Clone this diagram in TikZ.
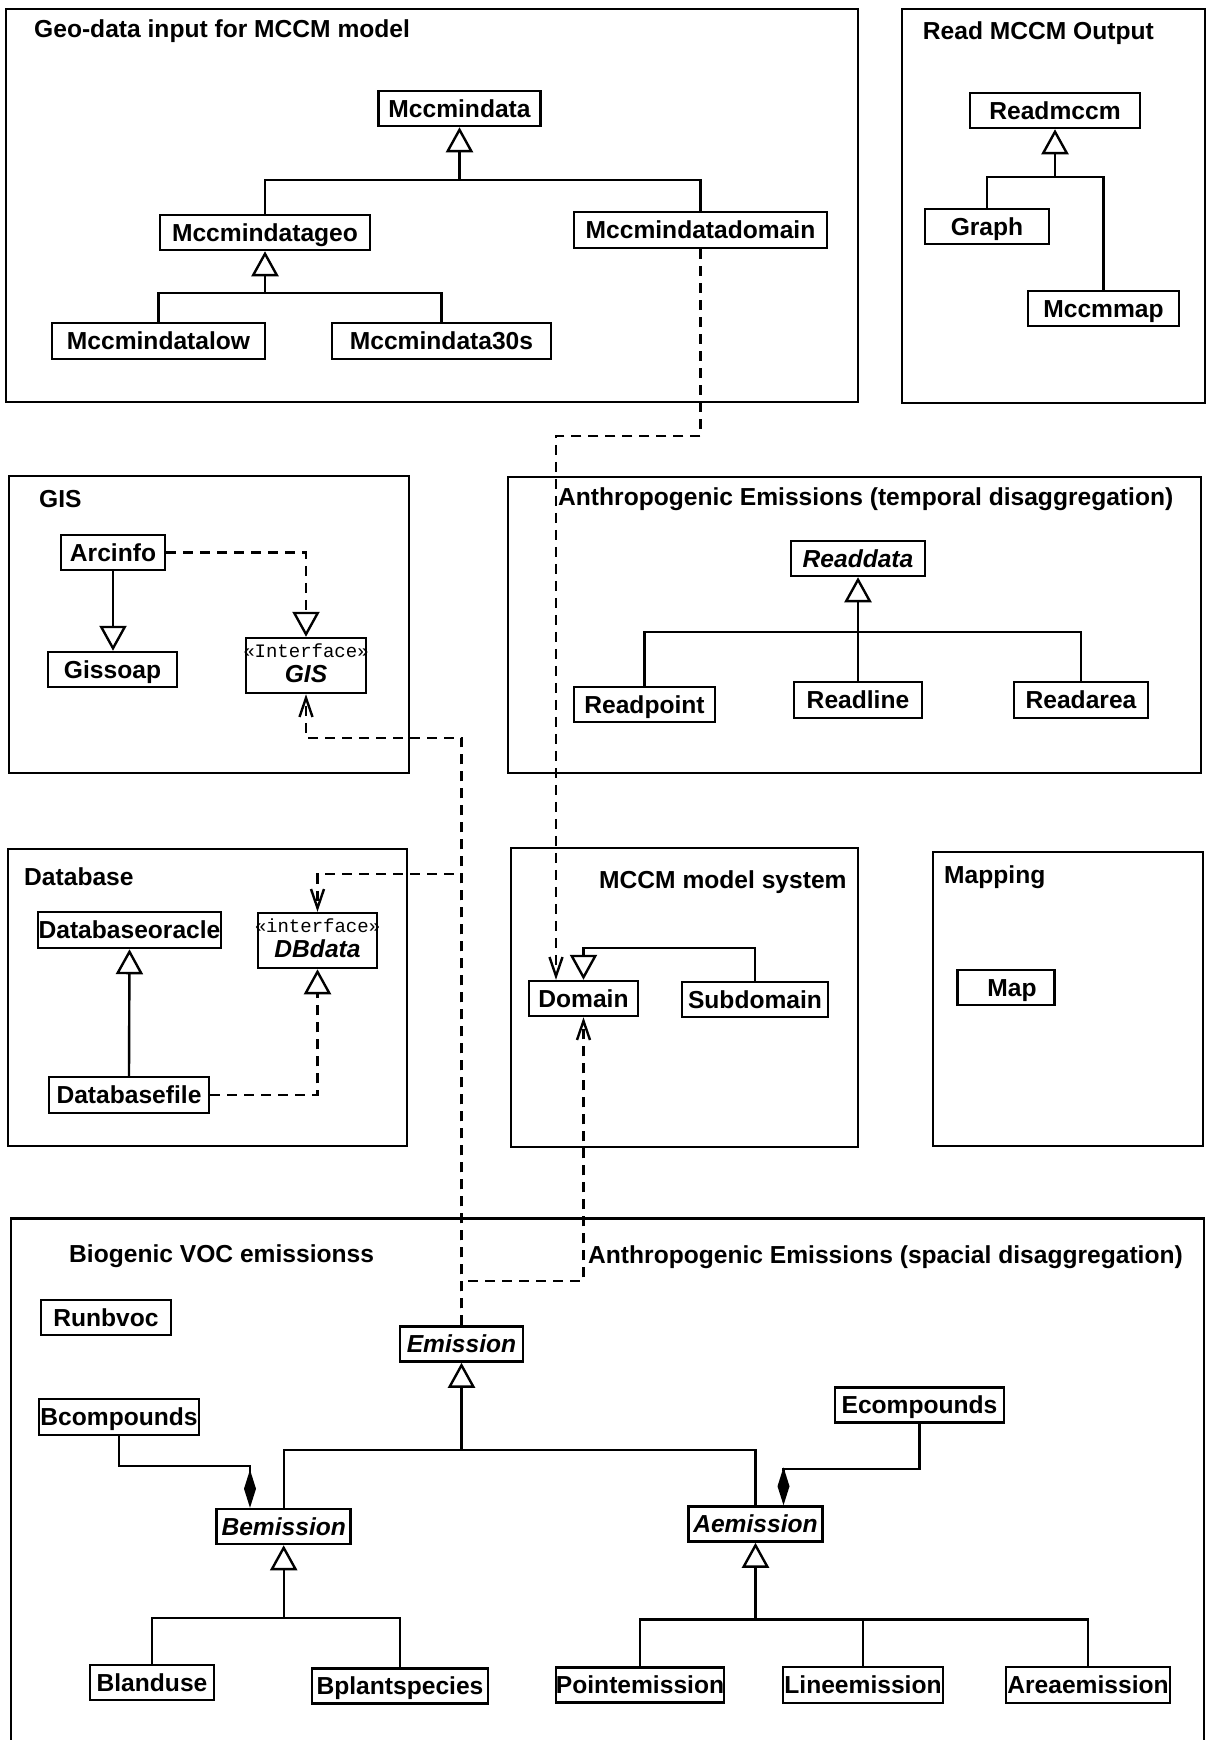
\documentclass[tikz,border=0pt]{standalone}
\usepackage{fontspec}
\setmainfont{Liberation Sans}
\newfontfamily\stereofam{Liberation Mono}
\usetikzlibrary{arrows.meta}
\newcommand\clsfont{\fontsize{24.6}{28}\selectfont\bfseries}
\newcommand\ifacetext[3]{\vbox{\baselineskip=24.5pt\lineskiplimit=-100pt\lineskip=0pt%
\hbox to #1pt{\hss{\stereofam\mdseries\fontsize{19}{19}\selectfont #2}\hss}%
\hbox to #1pt{\hss\textit{#3}\hss}}}
\tikzset{
 pkg/.style={draw, line width=2.5pt, inner sep=0pt},
 wh/.style 2 args={minimum width=#1pt, minimum height=#2pt},
 cls/.style={draw, line width=2.5pt, inner sep=0pt, font=\clsfont, text height=17.6pt, text depth=0pt},
 abscls/.style={cls, font=\clsfont\itshape},
 iface/.style={draw, line width=2.5pt, inner sep=0pt, font=\clsfont, text height=33pt, text depth=0pt, minimum height=55pt},
 title/.style={anchor=base west, inner sep=0pt, font=\clsfont},
 conn/.style={line width=2.4pt},
 gen/.style={conn, -{Triangle[open,length=25pt,width=27pt,fill=white]}},
 dep/.style={conn, dash pattern=on 10pt off 7pt, -{Straight Barb[length=19pt,width=13pt]}},
 real/.style={conn, dash pattern=on 10pt off 7pt, -{Triangle[open,length=25pt,width=27pt,fill=white]}},
 comp/.style={conn, -{Diamond[length=38pt,width=12pt]}},
}
\begin{document}
\begin{tikzpicture}[x=1pt,y=-1pt]
\useasboundingbox (0,0) rectangle (1207,1740);
\clip (0,0) rectangle (1207,1740);
\fill[white] (0,0) rectangle (1207,1740);

% ---------- packages ----------
\node[pkg, wh={852}{393}] (pGeo) at (432,205.5) {};
\node[pkg, wh={303}{394}] (pRead) at (1053.5,206) {};
\node[pkg, wh={400}{297}] (pGIS) at (209,624.5) {};
\node[pkg, wh={693}{296}] (pTemp) at (854.5,625) {};
\node[pkg, wh={399}{297}] (pDB) at (207.5,997.5) {};
\node[pkg, wh={347}{299}] (pMCCM) at (684.5,997.5) {};
\node[pkg, wh={270}{294}] (pMap) at (1068,999) {};
\node[pkg, wh={1193}{541.5}] (pBottom) at (607.5,1489.25) {};

% ---------- titles ----------
\node[title] (tGeo) at (34,37.5) {Geo-data input for MCCM model};
\node[title] (tRead) at (922.7,39.5) {Read MCCM Output};
\node[title] (tGIS) at (39,507) {GIS};
\node[title] (tTemp) at (558,505) {Anthropogenic Emissions (temporal disaggregation)};
\node[title] (tDB) at (24,885) {Database};
\node[title] (tMCCM) at (599,888) {MCCM model system};
\node[title] (tMap) at (944,883) {Mapping};
\node[title] (tBio) at (69,1262) {Biogenic VOC emissionss};
\node[title] (tSpa) at (588,1263) {Anthropogenic Emissions (spacial disaggregation)};

% ---------- Geo-data ----------
\node[cls,wh={162}{35}] (mccmindata) at (459.5,108.5) {Mccmindata};
\node[cls,wh={210}{35}] (geo) at (265,232.5) {Mccmindatageo};
\node[cls,wh={253}{36}] (mdomain) at (700.5,230) {Mccmindatadomain};
\node[cls,wh={213}{36}] (low) at (158.5,341) {Mccmindatalow};
\node[cls,wh={219}{36}] (m30s) at (441.5,341) {Mccmindata30s};

% ---------- Read MCCM Output ----------
\node[cls,wh={170}{35}] (readmccm) at (1055,110.5) {Readmccm};
\node[cls,wh={124}{35}] (graph) at (987,226.5) {Graph};
\node[cls,wh={151}{35}] (mccmmap) at (1103.5,308.5) {Mccmmap};

% ---------- GIS ----------
\node[cls,wh={104}{35}] (arcinfo) at (113,552.5) {Arcinfo};
\node[cls,wh={129}{35}] (gissoap) at (112.5,669.5) {Gissoap};
\node[iface,minimum width=120pt] (gisif) at (306,665.5) {\ifacetext{120}{«Interface»}{GIS}};

% ---------- temporal ----------
\node[abscls,wh={134}{35}] (readdata) at (858,558.5) {Readdata};
\node[cls,wh={141}{35}] (readpoint) at (644.5,704.5) {Readpoint};
\node[cls,wh={128}{36}] (readline) at (858,700) {Readline};
\node[cls,wh={134}{36}] (readarea) at (1081,700) {Readarea};

% ---------- Database ----------
\node[cls,wh={183}{36}] (dboracle) at (129.5,930) {Databaseoracle};
\node[cls,wh={160}{36}] (dbfile) at (129,1095) {Databasefile};
\node[iface,minimum width=119pt] (dbif) at (317.5,940.5) {\ifacetext{119}{«interface»}{DBdata}};

% ---------- MCCM model system ----------
\node[cls,wh={109}{35}] (domain) at (583.5,998.5) {Domain};
\node[cls,wh={146}{35}] (subdomain) at (755,999.5) {Subdomain};

% ---------- Mapping ----------
\node[cls,wh={97}{35}] (map) at (1006,987.5) {\hspace{12pt}Map};

% ---------- bottom package ----------
\node[cls,wh={130}{35}] (runbvoc) at (106,1317.5) {Runbvoc};
\node[abscls,wh={123}{35}] (emission) at (461.5,1344) {Emission};
\node[cls,wh={160}{36}] (bcompounds) at (119,1417) {Bcompounds};
\node[abscls,wh={134}{35}] (bemission) at (283.7,1526.5) {Bemission};
\node[cls,wh={169}{35}] (ecompounds) at (919.5,1405) {Ecompounds};
\node[abscls,wh={134}{35}] (aemission) at (755.5,1524) {Aemission};
\node[cls,wh={124}{35}] (blanduse) at (152,1682.5) {Blanduse};
\node[cls,wh={176}{35}] (bplant) at (400,1686) {Bplantspecies};
\node[cls,wh={168}{35}] (pointem) at (640,1685) {Pointemission};
\node[cls,wh={160}{36}] (lineem) at (863,1685) {Lineemission};
\node[cls,wh={164}{36}] (areaem) at (1088,1685) {Areaemission};

% ---------- junction coordinates ----------
\coordinate (j1) at (459.5,180);
\coordinate (j2) at (265,293);
\coordinate (j3) at (1055,177);
\coordinate (j4) at (858,632);
\coordinate (j5) at (583.5,948);
\coordinate (jE) at (461.5,1450);
\coordinate (jB) at (283.7,1618);
\coordinate (jA) at (755.5,1619.5);
\coordinate (cB) at (250,1466);
\coordinate (cE) at (783.5,1469);
\coordinate (d1) at (556,436);
\coordinate (e1) at (461.5,1281);
\coordinate (e2) at (461.5,874);
\coordinate (e3) at (461.5,738);

% ---------- generalizations ----------
\draw[conn] (geo.north) |- (j1) -| (mdomain.north);
\draw[gen] (j1) -- (mccmindata.south);
\draw[conn] (low.north) |- (j2) -| (m30s.north);
\draw[gen] (j2) -- (geo.south);

\draw[conn] (graph.north) |- (j3) -| (mccmmap.north);
\draw[gen] (j3) -- (readmccm.south);

\draw[gen] (arcinfo.south) -- (arcinfo.south |- gissoap.north);

\draw[conn] (readpoint.north) |- (j4) -| (readarea.north);
\draw[conn] (readline.north) -- (j4);
\draw[gen] (j4) -- (readdata.south);

\draw[gen] (dbfile.north) -- (dboracle.south);

\draw[gen] (subdomain.north) |- (j5) -- (domain.north);

\draw[conn] (bemission.north) |- (jE) -| (aemission.north);
\draw[gen] (jE) -- (emission.south);
\draw[conn] (blanduse.north) |- (jB) -| (bplant.north);
\draw[gen] (jB) -- (bemission.south);
\draw[conn] (pointem.north) |- (jA) -| (areaem.north);
\draw[conn] (lineem.north) -- (lineem.north |- jA);
\draw[gen] (jA) -- (aemission.south);

% ---------- compositions ----------
\draw[comp] (bcompounds.south) |- (cB) -- (cB |- bemission.north);
\draw[comp] (ecompounds.south) |- (cE) -- (cE |- aemission.north);

% ---------- realizations ----------
\draw[real] (arcinfo.east) -| (gisif.north);
\draw[real] (dbfile.east) -| (dbif.south);

% ---------- dependencies ----------
\draw[dep] (mdomain.south) |- (d1) -- (d1 |- domain.north);
\draw[dep] (emission.north) -- (e1) -| (domain.south);
\draw[dep] (emission.north) -- (e2) -| (dbif.north);
\draw[dep] (emission.north) -- (e3) -| (gisif.south);
\end{tikzpicture}
\end{document}
